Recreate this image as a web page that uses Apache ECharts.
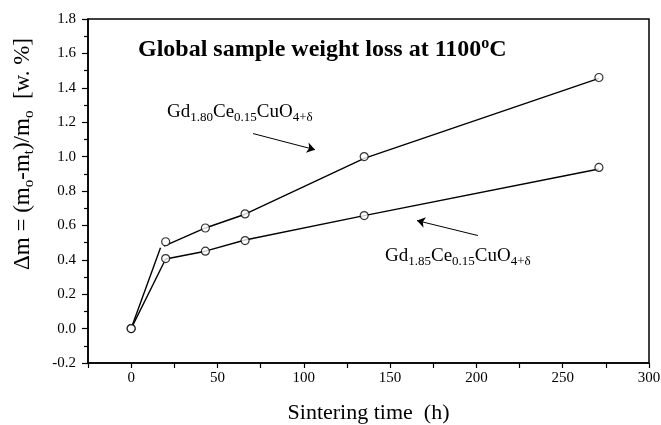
<!DOCTYPE html>
<html>
<head>
<meta charset="utf-8">
<script src="https://cdn.jsdelivr.net/npm/echarts@6/dist/echarts.min.js"></script>
<style>
html, body { margin: 0; padding: 0; background: #fff; }
#chart { width: 661px; height: 425px; }
</style>
</head>
<body>
<div id="chart"></div>
<script>
// measured points (h, w.%)
const timeHours = [0, 20, 43, 66, 135, 271];
const loss180 = [0.0, 0.505, 0.585, 0.667, 1.0, 1.46];
const loss185 = [0.0, 0.407, 0.45, 0.512, 0.657, 0.937];
// fitted curves drawn through the points
const fitTime180 = [0, 17, 18, 19, 43, 66, 135, 271];
const fit180 = [0.0, 0.47, '-', 0.48, 0.585, 0.665, 0.99, 1.455];
const fitTime185 = [0, 20, 43, 66, 135, 271];
const fit185 = [0.0, 0.405, 0.45, 0.515, 0.657, 0.928];
// arrows pointing at the curves [from, to]
const arrow180 = [[70.6, 1.134], [106.5, 1.04]];
const arrow185 = [[200.9, 0.541], [165.6, 0.628]];
const yTickLabels = ['-0.2', '0.0', '0.2', '0.4', '0.6', '0.8', '1.0', '1.2', '1.4', '1.6', '1.8'];
const xTickLabels = ['0', '50', '100', '150', '200', '250', '300'];

const FONT = "'Liberation Serif', 'Times New Roman', serif";
const zip = (xs, ys) => xs.map((x, i) => [x, ys[i]]);

const chart = echarts.init(document.getElementById('chart'));

const subRich = {
    n: { fontFamily: FONT, fontSize: 19, color: '#000', lineHeight: 24 },
    s: { fontFamily: FONT, fontSize: 13, color: '#000', lineHeight: 13, padding: [11, 0, 0, 0] }
};

const option = {
    backgroundColor: '#fff',
    animation: false,
    grid: {
        left: 88, right: 12, top: 19, bottom: 62, containLabel: false, outerBoundsMode: 'none',
        show: true, borderColor: '#000', borderWidth: 1.5
    },
    xAxis: {
        type: 'value', min: -25, max: 300, interval: 25,
        axisLine: { onZero: false, lineStyle: { color: '#000', width: 1.5 } },
        axisTick: { length: 5, lineStyle: { color: '#000', width: 1.2 } },
        axisLabel: {
            color: '#000', fontFamily: FONT, fontSize: 15, margin: 8,
            formatter: v => xTickLabels.indexOf(String(v)) >= 0 ? String(v) : ''
        },
        splitLine: { show: false },
        name: 'Sintering time  (h)', nameLocation: 'middle', nameGap: 39,
        nameTextStyle: { color: '#000', fontFamily: FONT, fontSize: 22 }
    },
    yAxis: {
        type: 'value', min: -0.2, max: 1.8, interval: 0.2,
        axisLine: { show: true, onZero: false, lineStyle: { color: '#000', width: 1.5 } },
        axisTick: { length: 6, lineStyle: { color: '#000', width: 1.2 } },
        minorTick: { show: true, splitNumber: 2, length: 4, lineStyle: { color: '#000', width: 1.2 } },
        axisLabel: {
            color: '#000', fontFamily: FONT, fontSize: 15, margin: 12,
            formatter: v => yTickLabels[Math.round((v + 0.2) / 0.2)]
        },
        splitLine: { show: false }
    },
    graphic: [
        {
            type: 'text', left: 138, top: 36,
            style: {
                text: '{b|Global sample weight loss at 1100}{p|o}{b|C}',
                rich: {
                    b: { fontFamily: FONT, fontSize: 24, fontWeight: 'bold', color: '#000', lineHeight: 28 },
                    p: { fontFamily: FONT, fontSize: 16, fontWeight: 'bold', color: '#000', lineHeight: 16, padding: [0, 0, 12, 0] }
                }
            }
        },
        {
            type: 'text', left: 167, top: 100,
            style: { text: '{n|Gd}{s|1.80}{n|Ce}{s|0.15}{n|CuO}{s|4+δ}', rich: subRich }
        },
        {
            type: 'text', left: 385, top: 244,
            style: { text: '{n|Gd}{s|1.85}{n|Ce}{s|0.15}{n|CuO}{s|4+δ}', rich: subRich }
        },
        {
            type: 'text', x: 23, y: 154, rotation: Math.PI / 2,
            style: {
                text: '{n|Δm = (m}{s|o}{n|-m}{s|t}{n|)/m}{s|o}{n|  [w. %]}',
                align: 'center', verticalAlign: 'middle',
                rich: {
                    n: { fontFamily: FONT, fontSize: 23, color: '#000', lineHeight: 28 },
                    s: { fontFamily: FONT, fontSize: 15, color: '#000', lineHeight: 15, padding: [13, 0, 0, 0] }
                }
            }
        }
    ],
    series: [
        {
            type: 'line', data: zip(fitTime180, fit180), symbol: 'none', connectNulls: false,
            lineStyle: { color: '#000', width: 1.4 },
            markLine: {
                silent: true, symbol: ['none', 'arrow'], symbolSize: 8,
                label: { show: false },
                lineStyle: { color: '#000', width: 1, type: 'solid' },
                data: [[{ coord: arrow180[0] }, { coord: arrow180[1] }]]
            }
        },
        {
            type: 'line', data: zip(fitTime185, fit185), symbol: 'none',
            lineStyle: { color: '#000', width: 1.4 },
            markLine: {
                silent: true, symbol: ['none', 'arrow'], symbolSize: 8,
                label: { show: false },
                lineStyle: { color: '#000', width: 1, type: 'solid' },
                data: [[{ coord: arrow185[0] }, { coord: arrow185[1] }]]
            }
        },
        {
            type: 'scatter', data: zip(timeHours, loss180), symbol: 'circle', symbolSize: 8, z: 5,
            itemStyle: { color: '#fff', borderColor: '#000', borderWidth: 1.2 }
        },
        {
            type: 'scatter', data: zip(timeHours, loss185), symbol: 'circle', symbolSize: 8, z: 5,
            itemStyle: { color: '#fff', borderColor: '#000', borderWidth: 1.2 }
        }
    ]
};

chart.setOption(option);
</script>
</body>
</html>
